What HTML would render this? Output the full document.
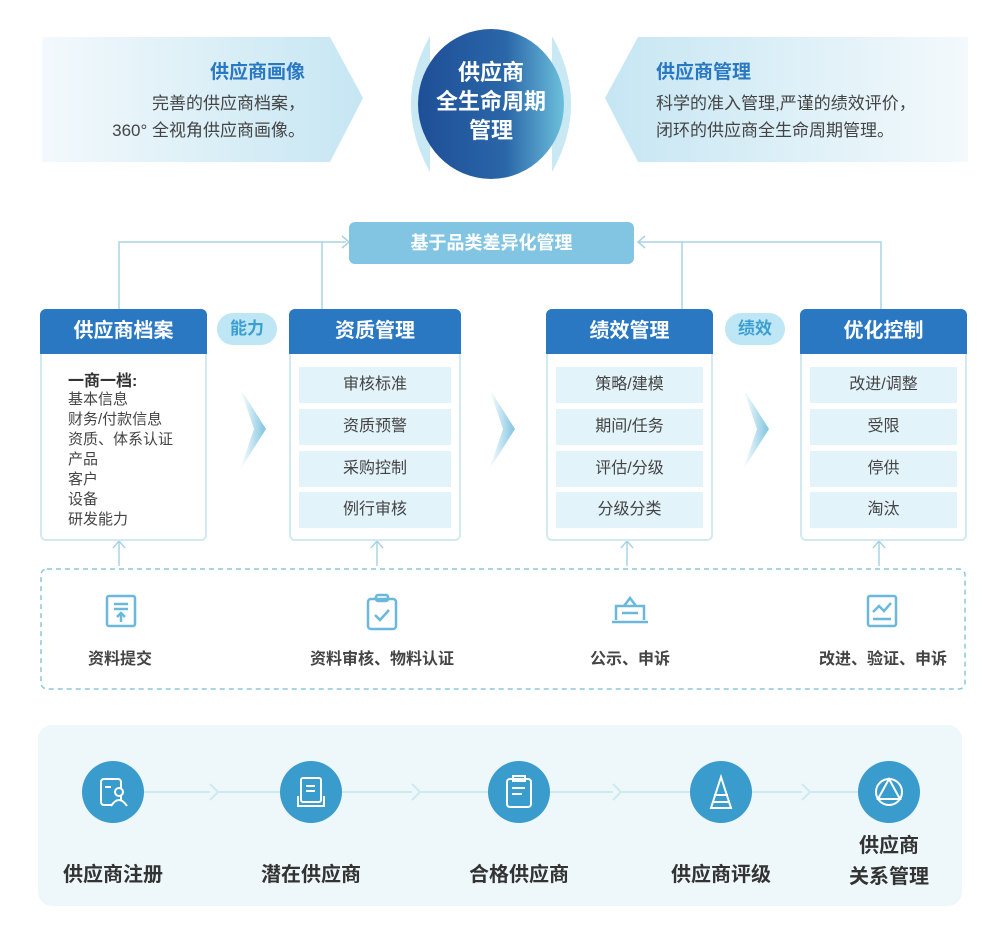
<!DOCTYPE html>
<html><head><meta charset="utf-8"><style>
*{margin:0;padding:0;box-sizing:border-box}
body{width:1000px;height:944px;background:#fff;position:relative;font-family:"Liberation Sans","Noto Sans CJK SC",sans-serif;overflow:hidden}
.a{position:absolute}
.card{position:absolute;top:309px;height:232px;border:2px solid #d3e9f2;border-radius:6px;background:#fff}
.hd{position:absolute;left:-2px;right:-2px;top:-2px;height:45px;background:#2a78c2;border-radius:6px 6px 0 0;color:#fff;font-weight:bold;font-size:20px;text-align:center;line-height:45px}
.it{position:absolute;left:8px;right:8px;height:36px;background:#e3f3fa;color:#444;font-size:16px;text-align:center;line-height:36px}
.pill{position:absolute;top:313px;width:60px;height:32px;border-radius:16px;background:#bfe6f5;color:#3a9ed0;font-weight:bold;font-size:17px;text-align:center;line-height:32px}
.lbl{position:absolute;font-weight:bold;font-size:16px;color:#444;text-align:center;width:200px}
.c{position:absolute;width:62px;height:62px;border-radius:50%;background:#3a9ccc;top:761px}
.bl{position:absolute;font-size:20px;color:#333;text-align:center;width:200px;font-weight:bold}
</style></head><body>
<svg class="a" style="left:0;top:0" width="1000" height="944">
<defs>
<linearGradient id="gl" x1="0" x2="1"><stop offset="0" stop-color="#f3f9fc"/><stop offset="1" stop-color="#c6e6f3"/></linearGradient>
<linearGradient id="gr" x1="0" x2="1"><stop offset="0" stop-color="#c6e6f3"/><stop offset="1" stop-color="#f3f9fc"/></linearGradient>
<linearGradient id="gc" x1="0" x2="1"><stop offset="0" stop-color="#1e4f97"/><stop offset="0.6" stop-color="#2a66a8"/><stop offset="1" stop-color="#6cc0dc"/></linearGradient>
<linearGradient id="ch" x1="0" x2="1"><stop offset="0" stop-color="#fff"/><stop offset="1" stop-color="#7ec4e0"/></linearGradient>
</defs>
<polygon points="42,37 330,37 363,98 330,162 42,162" fill="url(#gl)"/>
<polygon points="638,37 968,37 968,162 638,162 605,98" fill="url(#gr)"/>
<path d="M430,36 Q392,104 430,172 Z" fill="#c8e8f4"/>
<path d="M552,36 Q590,104 552,172 Z" fill="#c8e8f4"/>
<ellipse cx="491" cy="104" rx="73" ry="75" fill="url(#gc)"/>
<g stroke="#a9d3e3" stroke-width="1.5" fill="none">
<polyline points="119,309 119,242 346,242"/><line x1="322" y1="309" x2="322" y2="242"/>
<polyline points="881,309 881,242 638,242"/><line x1="682" y1="309" x2="682" y2="242"/>
<polyline points="342,236 349,242 342,248"/><polyline points="645,236 638,242 645,248"/>
<line x1="119" y1="566" x2="119" y2="541"/><polyline points="113,548 119,541 125,548"/>
<line x1="377" y1="566" x2="377" y2="541"/><polyline points="371,548 377,541 383,548"/>
<line x1="627" y1="566" x2="627" y2="541"/><polyline points="621,548 627,541 633,548"/>
<line x1="879" y1="566" x2="879" y2="541"/><polyline points="873,548 879,541 885,548"/>
</g>
<rect x="349" y="222" width="285" height="42" rx="6" fill="#82c5e3"/>
<polygon points="240,388 266,429 240,470 254,429" fill="url(#ch)"/>
<polygon points="489,388 515,429 489,470 503,429" fill="url(#ch)"/>
<polygon points="743,388 769,429 743,470 757,429" fill="url(#ch)"/>
<rect x="41" y="569" width="924" height="120" rx="6" fill="none" stroke="#8cc6dc" stroke-width="1.5" stroke-dasharray="5,4"/>
<rect x="38" y="725" width="924" height="181" rx="14" fill="#eef7fa"/>
<g stroke="#cfe9f1" stroke-width="2" fill="#eef7fa">
<line x1="144" y1="792" x2="860" y2="792"/>
<polyline points="210,784 218,792 210,800"/><polyline points="412,784 420,792 412,800"/><polyline points="613,784 621,792 613,800"/><polyline points="802,784 810,792 802,800"/>
</g>
<g stroke="#6ab8dc" stroke-width="2.5" fill="none">
<rect x="107" y="596" width="28" height="30" rx="2"/><line x1="114" y1="604" x2="128" y2="604"/><line x1="114" y1="609" x2="128" y2="609"/><line x1="121" y1="622" x2="121" y2="614"/><polyline points="117,617 121,613 125,617"/>
<rect x="368" y="599" width="28" height="30" rx="3"/><rect x="376" y="595" width="12" height="6" rx="2"/><polyline points="375,615 380,620 389,610"/>
<polyline points="616,620 616,606 644,606 644,620"/><line x1="612" y1="622" x2="648" y2="622"/><polyline points="624,606 630,598 636,606"/><line x1="622" y1="613" x2="638" y2="613"/>
<rect x="868" y="596" width="28" height="30" rx="2"/><polyline points="873,612 879,606 884,611 891,603"/><line x1="873" y1="619" x2="891" y2="619"/>
</g>
</svg>
<div class="a" style="left:60px;top:57px;width:245px;text-align:right;color:#2a78c2;font-weight:bold;font-size:19px">供应商画像</div>
<div class="a" style="left:40px;top:90px;width:265px;text-align:right;color:#444;font-size:17px;line-height:27px">完善的供应商档案，<br>360° 全视角供应商画像。</div>
<div class="a" style="left:656px;top:57px;color:#2a78c2;font-weight:bold;font-size:19px">供应商管理</div>
<div class="a" style="left:656px;top:90px;color:#444;font-size:17px;line-height:27px">科学的准入管理,严谨的绩效评价，<br>闭环的供应商全生命周期管理。</div>
<div class="a" style="left:420px;top:58px;width:142px;text-align:center;color:#fff;font-weight:bold;font-size:22px;line-height:29px">供应商<br>全生命周期<br>管理</div>
<div class="a" style="left:349px;top:222px;width:285px;line-height:42px;text-align:center;color:#fff;font-weight:bold;font-size:18px">基于品类差异化管理</div>
<div class="card" style="left:40px;width:167px"><div class="hd">供应商档案</div>
<div class="a" style="left:26px;top:56px;font-weight:bold;font-size:16px;color:#333">一商一档:</div>
<div class="a" style="left:26px;top:79px;font-size:15px;color:#444;line-height:20px">基本信息<br>财务/付款信息<br>资质、体系认证<br>产品<br>客户<br>设备<br>研发能力</div></div>
<div class="pill" style="left:217px">能力</div><div class="pill" style="left:725px">绩效</div>
<div class="card" style="left:289px;width:172px"><div class="hd">资质管理</div>
<div class="it" style="top:56px">审核标准</div><div class="it" style="top:98px">资质预警</div><div class="it" style="top:140px">采购控制</div><div class="it" style="top:181px">例行审核</div></div>
<div class="card" style="left:546px;width:167px"><div class="hd">绩效管理</div>
<div class="it" style="top:56px">策略/建模</div><div class="it" style="top:98px">期间/任务</div><div class="it" style="top:140px">评估/分级</div><div class="it" style="top:181px">分级分类</div></div>
<div class="card" style="left:800px;width:167px"><div class="hd">优化控制</div>
<div class="it" style="top:56px">改进/调整</div><div class="it" style="top:98px">受限</div><div class="it" style="top:140px">停供</div><div class="it" style="top:181px">淘汰</div></div>
<div class="lbl" style="left:20px;top:645px">资料提交</div>
<div class="lbl" style="left:282px;top:645px">资料审核、物料认证</div>
<div class="lbl" style="left:530px;top:645px">公示、申诉</div>
<div class="lbl" style="left:783px;top:645px">改进、验证、申诉</div>
<div class="c" style="left:82px"></div><div class="c" style="left:280px"></div><div class="c" style="left:488px"></div><div class="c" style="left:690px"></div><div class="c" style="left:858px"></div>
<svg class="a" style="left:0;top:0" width="1000" height="944"><g stroke="#fff" stroke-width="2" fill="none">
<rect x="101" y="779" width="20" height="26" rx="3"/><circle cx="119" cy="792" r="4" fill="#3a9ccc"/><path d="M111 806 q8-12 16 0" fill="#3a9ccc"/><line x1="105" y1="787" x2="111" y2="787"/>
<rect x="301" y="778" width="20" height="24" rx="2"/><line x1="306" y1="786" x2="315" y2="786"/><line x1="306" y1="791" x2="315" y2="791"/><path d="M298 796 v10 h26 v-10"/>
<rect x="507" y="779" width="24" height="28" rx="3"/><rect x="513" y="776" width="12" height="5"/><line x1="512" y1="788" x2="525" y2="788"/><line x1="512" y1="794" x2="522" y2="794"/>
<polygon points="721,777 711,808 731,808"/><line x1="714" y1="795" x2="728" y2="795"/><line x1="712" y1="802" x2="730" y2="802"/>
<circle cx="889" cy="792" r="13"/><polygon points="889,779 878,799 900,799"/>
</g></svg>
<div class="bl" style="left:13px;top:858px">供应商注册</div>
<div class="bl" style="left:211px;top:858px">潜在供应商</div>
<div class="bl" style="left:419px;top:858px">合格供应商</div>
<div class="bl" style="left:621px;top:858px">供应商评级</div>
<div class="bl" style="left:789px;top:831px;line-height:31px">供应商<br>关系管理</div>
</body></html>
